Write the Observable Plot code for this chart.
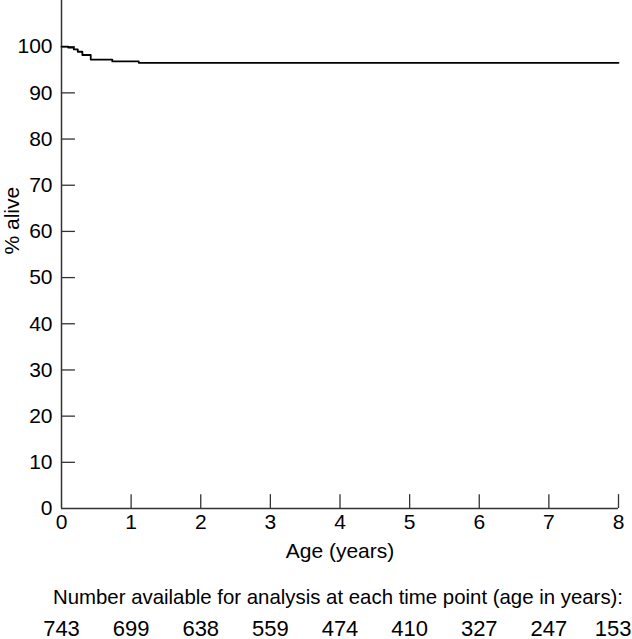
<!DOCTYPE html>
<html>
<head>
<meta charset="utf-8">
<script src="https://cdn.jsdelivr.net/npm/d3@7"></script>
<script src="https://cdn.jsdelivr.net/npm/@observablehq/plot@0.6"></script>
<style>
  html, body { margin: 0; padding: 0; background: #fff; }
  #chart svg { display: block; }
</style>
</head>
<body>
<div id="chart"></div>
<script>
// Kaplan–Meier survival (step) data
const times    = [0, 0.096, 0.177, 0.234, 0.30, 0.42, 0.73, 1.11, 8];
const survival = [100, 99.8, 99.4, 98.9, 98.2, 97.2, 96.8, 96.5, 96.5];

const xTicks = [0, 1, 2, 3, 4, 5, 6, 7, 8];
const yTicks = [0, 10, 20, 30, 40, 50, 60, 70, 80, 90, 100];
const atRiskYears = [0, 1, 2, 3, 4, 5, 6, 7, 8];
const atRisk = [743, 699, 638, 559, 474, 410, 327, 247, 153];

const xLabel = "Age (years)";
const yLabel = "% alive";
const atRiskTitle = "Number available for analysis at each time point (age in years):";

const curve = times.map((t, i) => ({t, s: survival[i]}));
const risk = atRiskYears.map((t, i) => ({t, n: atRisk[i]}));
const riskInner = risk.slice(0, -1);
const riskLast = risk.slice(-1);

const font = "'Liberation Sans', Arial, sans-serif";
const axisColor = "#333";

const chart = Plot.plot({
  width: 632,
  height: 639,
  marginLeft: 61,
  marginRight: 14,
  marginTop: 0,
  marginBottom: 131,
  style: {fontFamily: font, background: "#fff", color: "#000", overflow: "visible"},
  x: {domain: [0, 8]},
  y: {domain: [0, 110]},
  marks: [
    Plot.axisY({ticks: yTicks, tickSize: 0, tickPadding: 9, fontSize: 21, label: null, tickFormat: d => d}),
    Plot.axisX({ticks: xTicks, tickSize: 0, tickPadding: 6, fontSize: 21, label: null, tickFormat: d => d}),
    Plot.ruleY(yTicks.filter(d => d > 0), {y: d => d, x1: 0, x2: 0.2, stroke: axisColor, strokeWidth: 1.3}),
    Plot.ruleX(xTicks.filter(d => d > 0), {x: d => d, y1: 0, y2: 3, stroke: axisColor, strokeWidth: 1.3}),
    Plot.ruleX([0], {stroke: axisColor, strokeWidth: 1.5}),
    Plot.ruleY([0], {stroke: axisColor, strokeWidth: 1.5}),
    Plot.line(curve, {x: "t", y: "s", curve: "step-after", stroke: "#000", strokeWidth: 1.8}),
    Plot.text([xLabel], {x: 4, y: 0, dy: 43, text: d => d, fontSize: 21, fill: "#000"}),
    Plot.text([yLabel], {frameAnchor: "left", dx: -49, rotate: -90, text: d => d, fontSize: 21, fill: "#000"}),
    Plot.text([atRiskTitle], {x: 4, y: 0, dy: 89, dx: -2, text: d => d, fontSize: 20.4, fill: "#000"}),
    Plot.text(riskInner, {x: "t", y: 0, dy: 120, text: d => String(d.n), fontSize: 22, fill: "#000"}),
    Plot.text(riskLast, {x: "t", y: 0, dy: 120, dx: 13, textAnchor: "end", text: d => String(d.n), fontSize: 22, fill: "#000"})
  ]
});
document.getElementById("chart").appendChild(chart);
</script>
</body>
</html>
